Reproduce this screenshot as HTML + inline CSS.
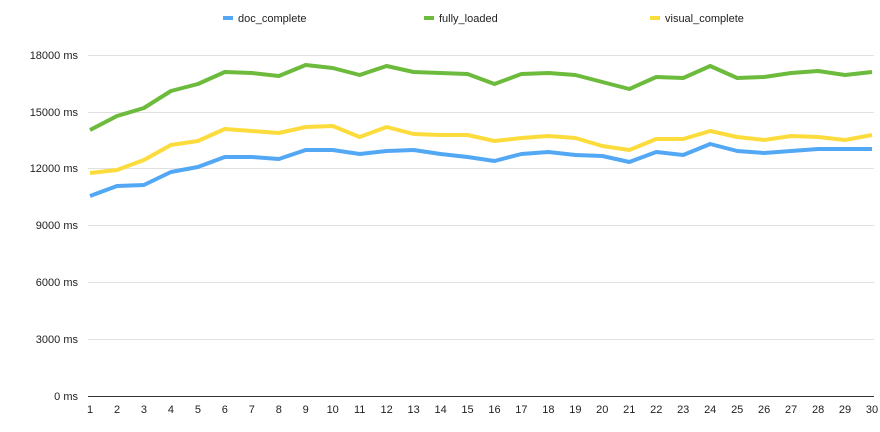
<!DOCTYPE html>
<html><head><meta charset="utf-8"><style>
html,body{margin:0;padding:0;background:#fff;width:880px;height:432px;overflow:hidden}
svg text{font-family:"Liberation Sans",sans-serif;font-size:11px;fill:#222}
</style></head><body>
<svg width="880" height="432" xmlns="http://www.w3.org/2000/svg">
<g stroke="#e0e0e0" stroke-width="1">
<line x1="88" x2="874" y1="55.5" y2="55.5"/><line x1="88" x2="874" y1="112.5" y2="112.5"/>
<line x1="88" x2="874" y1="168.5" y2="168.5"/><line x1="88" x2="874" y1="225.5" y2="225.5"/>
<line x1="88" x2="874" y1="282.5" y2="282.5"/><line x1="88" x2="874" y1="339.5" y2="339.5"/>
</g>
<line x1="88" x2="874" y1="396.5" y2="396.5" stroke="#333" stroke-width="1"/>
<g text-anchor="end">
<text x="78" y="59">18000 ms</text><text x="78" y="116">15000 ms</text><text x="78" y="172">12000 ms</text>
<text x="78" y="229">9000 ms</text><text x="78" y="286">6000 ms</text><text x="78" y="343">3000 ms</text><text x="78" y="400">0 ms</text>
</g>
<g text-anchor="middle" id="xl"></g>
<g fill="none" stroke-width="4" stroke-linejoin="round">
<polyline id="g" stroke="#6cbb3c"/>
<polyline id="y" stroke="#fcdc3c"/>
<polyline id="b" stroke="#52a8f5"/>
</g>
<rect x="223" y="16" width="10" height="4" fill="#52a8f5"/><text x="238" y="22">doc_complete</text>
<rect x="424" y="16" width="10" height="4" fill="#6cbb3c"/><text x="439" y="22">fully_loaded</text>
<rect x="650" y="16" width="10" height="4" fill="#fcdc3c"/><text x="665" y="22">visual_complete</text>
</svg>
<script>
var G=[130,116,108,91,84,72,73,76,65,68,75,66,72,73,74,84,74,73,75,82,89,77,78,66,78,77,73,71,75,72];
var Y=[173,170,160,145,141,129,131,133,127,126,137,127,134,135,135,141,138,136,138,146,150,139,139,131,137,140,136,137,140,135];
var B=[196,186,185,172,167,157,157,159,150,150,154,151,150,154,157,161,154,152,155,156,162,152,155,144,151,153,151,149,149,149];
function pts(a){return a.map(function(v,i){return (90+i*782/29).toFixed(1)+","+v}).join(" ")}
document.getElementById("g").setAttribute("points",pts(G));
document.getElementById("y").setAttribute("points",pts(Y));
document.getElementById("b").setAttribute("points",pts(B));
var xl=document.getElementById("xl"),s="";
for(var i=0;i<30;i++)s+='<text x="'+(90+i*782/29).toFixed(1)+'" y="413">'+(i+1)+'</text>';
xl.innerHTML=s;
</script>
</body></html>
